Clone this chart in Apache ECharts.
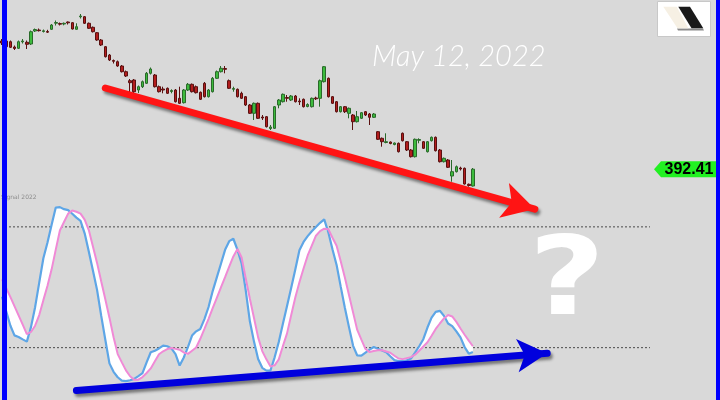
<!DOCTYPE html>
<html><head><meta charset="utf-8">
<script src="https://cdn.jsdelivr.net/npm/echarts@6/dist/echarts.min.js"></script>
<style>html,body{margin:0;padding:0;background:#d9d9d9}#c{width:720px;height:400px}</style>
</head><body><div id="c"></div><script>
// ---- data ----
const opens = [456.5,456.5,456.15,453.5,452.85,456.1,455.85,455,461.5,462,
461.25,461.25,462.35,465.4,465.25,465,466,465.65,462.35,468.6,
468.65,465.35,463.35,460.65,457,453.65,449.5,446.75,446.15,444,
441.15,436.65,437,432,433.65,435.35,440.35,439.5,433.65,432.5,
432.85,431.25,432,427.85,425.65,432,434.85,433.65,430.85,435.35,
428.65,431.15,437.85,441.15,442.75,436.65,432.35,432.35,430.35,428.65,
424.5,420.35,425.35,418.5,418.65,412.75,412.85,424.5,426.15,428.25,
427,429,426.5,427.35,423.75,423.65,428,427.85,436.15,437.85,
428.65,426.15,421.15,423.65,420.35,419.5,416.15,417.85,421.15,420,
418.35,411.15,407.85,405.75,406,404.75,405.35,410.35,406.15,402,
398.65,406.85,406.15,401.15,406.65,408.35,402,396.15,397,389,
391.15,393,392.85,384.85,384];
const closes = [455.5,453.65,453.35,452.75,456.15,456.5,454.85,461.15,462.25,461.65,
461.6,460.9,464.5,465.75,464.9,465.35,465.6,462.5,463.65,469,
465.35,462.85,461.15,457,454.5,448.65,447,446.35,444,441.15,
439,435.65,431.15,433.65,436.15,440.35,442.5,433.65,431.15,432,
430.35,431.75,426.15,425.35,432,434.85,431.15,430.65,427.35,428.65,
432,437.85,441.15,442.85,442.35,432.85,432.75,428.65,427.85,424.5,
420.35,425.35,417.85,418,413.65,413.5,423.65,427,429.85,427.85,
429,426.15,426.1,423.65,424.75,427.85,427.6,436.65,443.65,428.65,
425.35,421.15,423.65,421.15,422.85,416.15,418.65,420.65,419.5,418.35,
420,407.35,406.15,406.15,405.25,405.5,401.15,406.65,402,398.65,
407.35,407.25,402.85,406.15,408.35,401.65,396.15,397.85,393.35,391.15,
393.65,392.5,385,384.25,392.41];
const lows = [454.5,453.25,453,452,452.5,455.25,452.5,454.5,461,461.25,
460.75,460.5,462,464.25,464.25,464.35,464.75,462.25,462.15,467.75,
465,462.5,460.75,456.6,454,448.25,446.5,445.25,443.6,440.75,
438.5,430.5,430.5,430.5,433,435,439.75,433.25,430.75,430.35,
430,430.35,425.75,425,425.25,431.5,430.75,430.25,427,428.25,
428.25,430.75,437.5,440.75,440.35,432.5,431.15,428.25,427.5,424,
420,417,417.5,417,413.25,412,412.5,422.85,425.75,426.15,
426.5,425.75,424.5,423.25,423.35,423.25,427,423.65,435.75,428.25,
425,420.75,420.75,420.5,417.85,412,415.75,417.5,419,414.5,
418,407,403.65,405.35,404.85,404.35,400.75,406.25,401.5,398.25,
398.25,405.35,402.5,400.75,406.25,401.25,395.75,395.75,393,386.15,
390.75,391.75,384.75,383.65,383.75];
const highs = [457.5,457,456.75,454.25,456.75,457.5,456.75,461.75,462.75,462.75,
462.25,462.1,465,466.75,465.75,465.75,466.25,466,465.35,470,
469,465.75,463.75,461,457.5,454,450,447.25,446.75,444.5,
441.75,437.5,437.5,434.25,436.75,441,443.25,440,434.25,433.65,
433.25,432.35,432.5,433.65,432.5,435.5,435.25,434.25,431.25,436,
432.5,438.5,441.75,444,444,437.25,433.65,432.75,431.15,429,
425,425.75,425.75,419.5,419,414.5,424,427.5,430.25,429.5,
429.5,429.5,427.85,427.75,425.35,428.25,428.65,437.25,444,438.25,
429,426.5,424,424,423.25,420,421.5,421,421.5,420.5,
420.5,411.5,408.25,410.35,406.25,405.75,405.75,410.75,406.5,402.5,
407.75,407.85,406.5,406.5,408.75,408.75,402.5,398.25,397.5,397,
394.25,393.65,393.25,385.25,393];
const stochK = [45.3,38.1,31.0,26.1,25.3,24.1,23.0,30.2,40.1,52.3,
64.4,72.2,81.0,89.6,89.8,88.8,88.3,86.5,84.6,83.0,
76.8,67.8,58.3,48.7,35.9,23.9,12.2,8.0,5.3,3.6,
3.4,3.8,4.5,5.9,7.4,12.7,17.7,18.5,19.6,21.0,
20.7,19.6,16.8,11.1,15.1,20.3,26.0,28.1,29.3,34.2,
40.2,48.1,54.9,61.7,68.6,72.9,74.1,68.6,61.9,48.5,
33.1,23.0,14.4,10.0,8.6,8.7,15.2,22.8,31.9,40.7,
49.6,58.8,68.4,72.5,75.4,77.8,79.9,82.0,83.7,77.3,
68.9,61.1,50.3,39.8,30.2,20.9,16.1,16.0,17.5,19.0,
20.3,19.4,18.6,17.7,15.7,13.8,13.3,13.3,13.7,14.6,
17.5,20.7,24.2,30.0,34.9,37.8,38.3,35.8,32.0,30.7,
28.1,25.1,20.3,17.0,17.8];
const stochD = [53.9,49.6,45.2,40.6,36.0,31.4,26.7,27.8,30.9,36.2,
43.6,50.8,58.9,68.7,78.2,82.4,86.6,88.1,87.5,86.6,
83.6,78.4,70.3,62.1,53.0,44.0,34.9,25.2,16.8,12.7,
8.7,5.8,4.1,4.1,5.4,7.4,9.7,13.2,16.7,18.2,
19.3,19.8,19.4,19.0,17.6,16.9,18.5,20.1,24.4,29.3,
34.3,39.6,44.7,49.9,55.0,60.3,65.3,69.0,64.8,54.4,
44.3,34.7,25.1,18.3,14.2,10.6,11.2,14.2,20.8,27.1,
36.1,44.9,52.5,59.3,65.8,70.7,75.6,77.9,79.1,78.8,
74.6,70.6,62.9,54.8,46.2,37.4,28.8,24.0,19.3,17.8,
18.3,18.7,18.7,18.1,17.5,16.0,14.6,14.3,14.8,15.3,
16.5,18.5,20.6,22.7,25.9,29.3,32.0,34.5,36.2,35.5,
32.8,29.5,26.4,23.5,20.7];
const levels = [80, 20];
const lastDateText = 'May 12, 2022';
const lastPriceText = '392.41';
const lastPrice = 392.41;
// trend annotations: [category index, value]
const priceTrend = [[25, 433], [129, 372.45]];
const stochTrend = [[18, -1.3], [132, 17.25]];
const futureSlots = 25;

// categories: trading days ending at the last bar, plus empty future slots
function buildCategories(endISO, nBack, nFwd) {
  const back = [];
  const t = new Date(endISO + 'T00:00:00Z');
  while (back.length < nBack) {
    const wd = t.getUTCDay();
    if (wd !== 0 && wd !== 6) back.unshift(t.toISOString().slice(0, 10));
    t.setUTCDate(t.getUTCDate() - 1);
  }
  const fwd = [];
  const f = new Date(endISO + 'T00:00:00Z');
  while (fwd.length < nFwd) {
    f.setUTCDate(f.getUTCDate() + 1);
    const wd = f.getUTCDay();
    if (wd !== 0 && wd !== 6) fwd.push(f.toISOString().slice(0, 10));
  }
  return back.concat(fwd);
}
const categories = buildCategories('2022-05-12', opens.length, futureSlots);

const candleData = opens.map((o, i) => [o, closes[i], lows[i], highs[i]]);
const bandBase = stochK.map((k, i) => Math.min(k, stochD[i]));
const bandSize = stochK.map((k, i) => Math.abs(k - stochD[i]));

const chart = echarts.init(document.getElementById('c'));
const bandW = 4.13;
const gridW = bandW * categories.length;

const option = {
  animation: false,
  backgroundColor: '#d9d9d9',
  grid: [
    {left: 0, top: 0, width: gridW, height: 400},
    {left: 0, top: 186.6, width: gridW, height: 213.8},
    {left: 5, top: 186.6, width: 645, height: 213.8}
  ],
  xAxis: [
    {type: 'category', gridIndex: 0, data: categories, show: false},
    {type: 'category', gridIndex: 1, data: categories, show: false},
    {type: 'value', gridIndex: 2, min: 0, max: 1, show: false}
  ],
  yAxis: [
    {type: 'value', gridIndex: 0, min: 277, max: 477, show: false},
    {type: 'value', gridIndex: 1, min: -6, max: 100, show: false},
    {type: 'value', gridIndex: 2, min: -6, max: 100, show: false}
  ],
  series: [
    {type: 'line', xAxisIndex: 2, yAxisIndex: 2, data: [[0, levels[0]], [1, levels[0]]], symbol: 'none', silent: true,
      lineStyle: {color: '#4a4a4a', width: 1, type: [2, 2]}, z: 1},
    {type: 'line', xAxisIndex: 2, yAxisIndex: 2, data: [[0, levels[1]], [1, levels[1]]], symbol: 'none', silent: true,
      lineStyle: {color: '#4a4a4a', width: 1, type: [2, 2]}, z: 1},
    {type: 'candlestick', xAxisIndex: 0, yAxisIndex: 0, data: candleData, barWidth: 3, z: 3,
      itemStyle: {color: '#3dbb3d', color0: '#b31d1d', borderColor: '#2a6a2a', borderColor0: '#5a1010', borderWidth: 1},
      markLine: {silent: true, animation: false, symbol: ['none', 'arrow'], symbolSize: [27, 32], label: {show: false},
        lineStyle: {color: '#ff1414', width: 7, type: 'solid', cap: 'round',
          shadowColor: 'rgba(0,0,0,0.45)', shadowBlur: 3, shadowOffsetX: 2, shadowOffsetY: 3},
        data: [[{coord: priceTrend[0]}, {coord: priceTrend[1]}]]}},
    {type: 'line', xAxisIndex: 1, yAxisIndex: 1, data: bandBase, stack: 'band', symbol: 'none', silent: true,
      lineStyle: {width: 0, opacity: 0}, z: 2},
    {type: 'line', xAxisIndex: 1, yAxisIndex: 1, data: bandSize, stack: 'band', symbol: 'none', silent: true,
      lineStyle: {width: 0, opacity: 0}, areaStyle: {color: '#ffffff', opacity: 1}, z: 2},
    {type: 'line', name: '%K', xAxisIndex: 1, yAxisIndex: 1, data: stochK, symbol: 'none', silent: true,
      lineStyle: {color: '#5ea6e6', width: 2.2}, z: 4},
    {type: 'line', name: '%D', xAxisIndex: 1, yAxisIndex: 1, data: stochD, symbol: 'none', silent: true,
      lineStyle: {color: '#f08ad6', width: 2}, z: 5,
      markLine: {silent: true, animation: false, symbol: ['none', 'arrow'], symbolSize: [25, 30], label: {show: false},
        lineStyle: {color: '#0000dd', width: 7, type: 'solid', cap: 'round',
          shadowColor: 'rgba(0,0,0,0.45)', shadowBlur: 3, shadowOffsetX: 2, shadowOffsetY: 3},
        data: [[{coord: stochTrend[0]}, {coord: stochTrend[1]}]]}}
  ]
};
chart.setOption(option);

const py = chart.convertToPixel({gridIndex: 0}, [0, lastPrice])[1];
chart.setOption({
  graphic: [
    {type: 'text', left: 372, top: 42, z: 50, style: {text: lastDateText, fill: '#ffffff',
      font: 'italic 300 29px Lato'}},
    {type: 'text', x: 567, y: 286, scaleX: 1.22, z: 50, style: {text: '?', fill: '#ffffff', align: 'center', verticalAlign: 'middle',
      font: 'bold 108px "DejaVu Sans"'}},
    {type: 'text', x: 1, y: 197, z: 50, style: {text: 'Signal 2022', fill: '#8c8c8c', verticalAlign: 'middle',
      font: '6px "DejaVu Sans"'}},
    {type: 'polygon', z: 60, shape: {points: [[654, py], [661, py - 8], [718, py - 8], [718, py + 8], [661, py + 8]]},
      style: {fill: '#22f022'}},
    {type: 'text', x: 689, y: py + 0.5, z: 61, style: {text: lastPriceText, fill: '#000000', align: 'center',
      verticalAlign: 'middle', font: 'bold 16px "Liberation Sans"'}},
    {type: 'rect', z: 60, shape: {x: 657.5, y: 1.5, width: 53, height: 35}, style: {fill: '#ffffff', stroke: '#c8c8c8', lineWidth: 1}},
    {type: 'polygon', z: 61, shape: {points: [[677, 28.5], [703, 28.5], [704, 30.5], [678, 30.5]]}, style: {fill: '#8a8a8a'}},
    {type: 'polygon', z: 62, shape: {points: [[663.3, 6.7], [676.7, 6.7], [688.3, 28.3], [677.5, 28.3]]}, style: {fill: '#f6f0e4'}},
    {type: 'polygon', z: 63, shape: {points: [[678.3, 6.7], [690, 6.7], [703.3, 28.3], [691.5, 28.3]]}, style: {fill: '#1a1a1a'}},
    {type: 'rect', z: 100, shape: {x: 2, y: 0, width: 5, height: 400}, style: {fill: '#0000ff'}},
    {type: 'rect', z: 100, shape: {x: 716, y: 0, width: 4, height: 400}, style: {fill: '#0000ff'}}
  ]
});
</script></body></html>
